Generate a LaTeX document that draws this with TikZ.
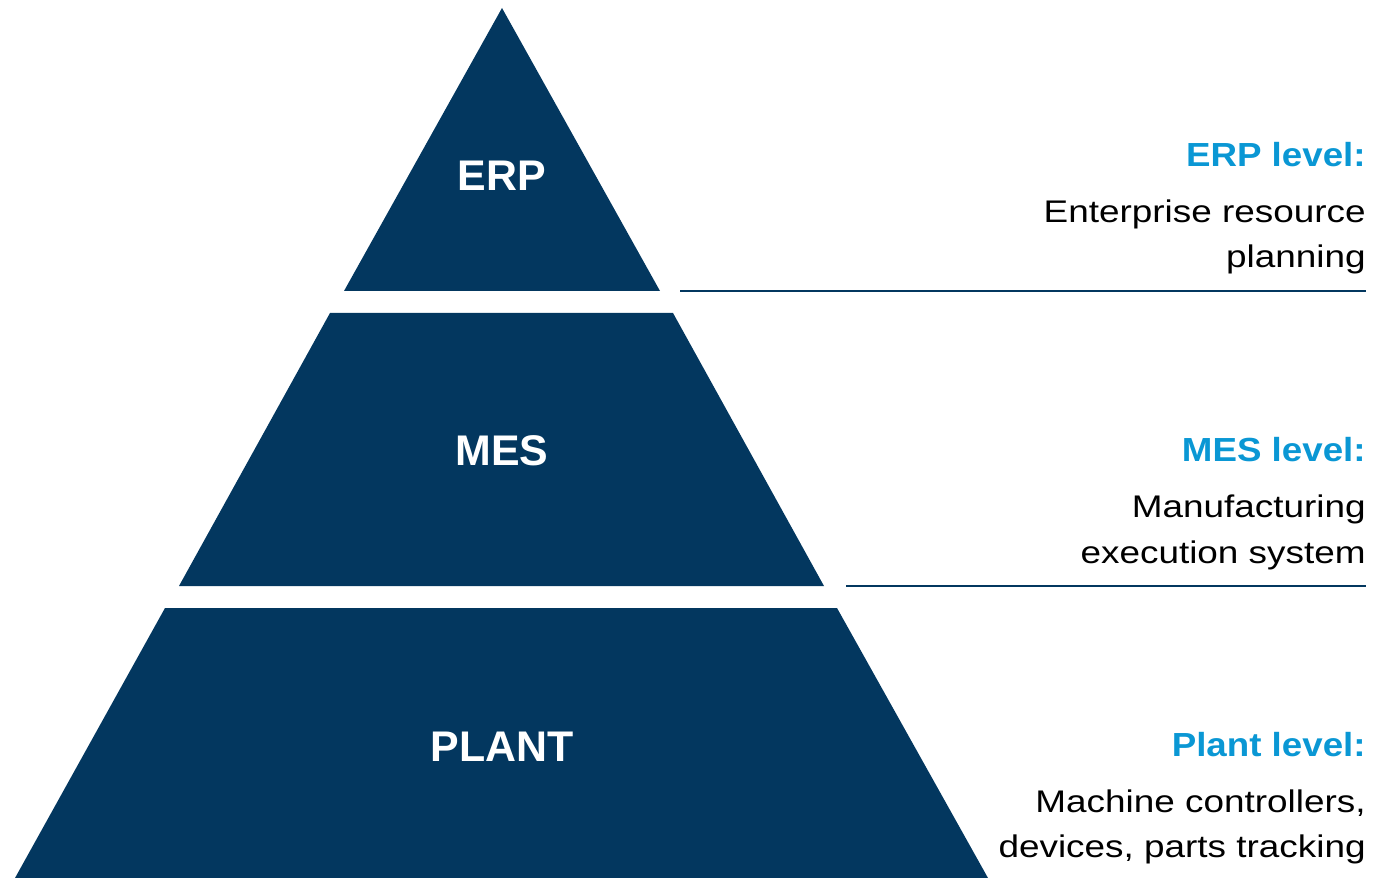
\documentclass[tikz,border=0pt]{standalone}
\usepackage{fontspec}
\setmainfont{Liberation Sans}
\newfontfamily\descfont[FakeStretch=1.18]{Liberation Sans}
\newfontfamily\headfont[FakeStretch=1.10]{Liberation Sans}
\usetikzlibrary{positioning}
\definecolor{pyrblue}{HTML}{03375F}
\definecolor{headblue}{HTML}{0A97D4}
\tikzset{
  lvl/.style      = {fill=pyrblue},
  lvllab/.style   = {anchor=base, text=white, inner sep=0pt,
                     font=\fontsize{24.4}{28}\selectfont\bfseries},
  lvlhead/.style  = {anchor=base east, text=headblue, inner sep=0pt,
                     font=\headfont\fontsize{19}{22}\selectfont\bfseries},
  lvldesc/.style  = {anchor=base east, text=black, inner sep=0pt,
                     font=\descfont\fontsize{17.8}{25.5}\selectfont},
  sepline/.style  = {draw=pyrblue, line width=1.1pt},
}
\begin{document}
\begin{tikzpicture}[x=0.02cm,y=-0.02cm]
  \useasboundingbox (0,0) rectangle (1373,878);
  % pyramid tiers
  \fill[lvl] (502,8) -- (660,291) -- (344,291) -- cycle;
  \fill[lvl] (330,313) -- (673,313) -- (824,586) -- (179,586) -- cycle;
  \fill[lvl] (165,608) -- (837,608) -- (988,878) -- (15,878) -- cycle;
  \node[lvllab] (erp)   at (502,191) {ERP};
  \node[lvllab] (mes)   at (502,466) {MES};
  \node[lvllab] (plant) at (502,761) {PLANT};
  % separators
  \coordinate (erpL) at (680,291);
  \coordinate (erpR) at (1366,291);
  \coordinate (mesL) at (846,586);
  \coordinate (mesR) at (1366,586);
  \draw[sepline] (erpL) -- (erpR);
  \draw[sepline] (mesL) -- (mesR);
  % descriptions
  \node[lvlhead] (erph)   at (1366,167) {ERP level:};
  \node[lvldesc] (erpd1)  at (1366,223) {Enterprise resource};
  \node[lvldesc] (erpd2)  at (1366,268) {planning};
  \node[lvlhead] (mesh)   at (1366,461) {MES level:};
  \node[lvldesc] (mesd1)  at (1366,518) {Manufacturing};
  \node[lvldesc] (mesd2)  at (1366,563) {execution system};
  \node[lvlhead] (planth) at (1366,756) {Plant level:};
  \node[lvldesc] (plantd1) at (1366,812) {Machine controllers,};
  \node[lvldesc] (plantd2) at (1366,857) {devices, parts tracking};
\end{tikzpicture}
\end{document}
